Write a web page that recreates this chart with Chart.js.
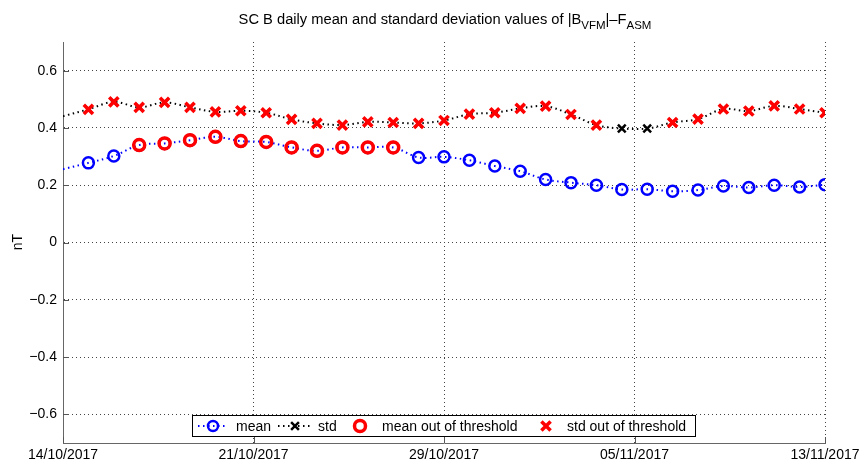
<!DOCTYPE html>
<html>
<head>
<meta charset="utf-8">
<script src="https://cdn.jsdelivr.net/npm/chart.js@4.4.1/dist/chart.umd.min.js"></script>
<style>
body { margin: 0; background: #fff; }
#wrap { width: 864px; height: 464px; }
</style>
</head>
<body>
<div id="wrap"><canvas id="myChart" width="864" height="464"></canvas></div>
<script>
// days since 14/10/2017
const days = [0, 1, 2, 3, 4, 5, 6, 7, 8, 9, 10, 11, 12, 13, 14, 15, 16, 17, 18, 19, 20, 21, 22, 23, 24, 25, 26, 27, 28, 29, 30];
const meanVals = [0.256, 0.278, 0.302, 0.340, 0.346, 0.357, 0.369, 0.354, 0.351, 0.332, 0.320, 0.332, 0.332, 0.332, 0.297, 0.299,
                  0.287, 0.267, 0.249, 0.220, 0.209, 0.200, 0.185, 0.186, 0.179, 0.183, 0.197, 0.192, 0.200, 0.194, 0.202];
const stdVals = [0.441, 0.465, 0.491, 0.472, 0.489, 0.472, 0.456, 0.460, 0.453, 0.430, 0.416, 0.410, 0.421, 0.419, 0.416, 0.426,
                 0.448, 0.453, 0.468, 0.476, 0.447, 0.410, 0.398, 0.398, 0.419, 0.431, 0.466, 0.459, 0.477, 0.466, 0.453];
const meanOutDays = [3, 4, 5, 6, 7, 8, 9, 10, 11, 12, 13];
const stdOutDays = [1, 2, 3, 4, 5, 6, 7, 8, 9, 10, 11, 12, 13, 14, 15, 16, 17, 18, 19, 20, 21, 24, 25, 26, 27, 28, 29, 30];
const xTickPos = [0, 7.5, 15, 22.5, 30];
const xTickLabels = ['14/10/2017', '21/10/2017', '29/10/2017', '05/11/2017', '13/11/2017'];
const yTickVals = [-0.6, -0.4, -0.2, 0, 0.2, 0.4, 0.6];

const FONT = "'Liberation Sans', Arial, Helvetica, sans-serif";
Chart.defaults.font.family = FONT;
Chart.defaults.font.size = 14;
Chart.defaults.color = '#000';

const pts = (vals) => days.map((d, i) => ({ x: d, y: vals[i] }));
const outPts = (vals, list) => days.map((d, i) => ({ x: d, y: list.includes(d) ? vals[i] : null }));

function drawMark(ctx, style, x, y, r, color, w) {
    ctx.save();
    ctx.strokeStyle = color;
    ctx.lineWidth = w;
    ctx.setLineDash([]);
    ctx.beginPath();
    if (style === 'circle') {
        ctx.arc(x, y, r, 0, Math.PI * 2);
    } else {
        const o = r * Math.SQRT1_2;
        ctx.moveTo(x - o, y - o); ctx.lineTo(x + o, y + o);
        ctx.moveTo(x - o, y + o); ctx.lineTo(x + o, y - o);
    }
    ctx.stroke();
    ctx.restore();
}

const extras = {
    id: 'extras',
    afterDraw(chart) {
        const ctx = chart.ctx;
        const xs = chart.scales.x, ys = chart.scales.y;
        const area = chart.chartArea;
        ctx.save();
        // inward tick marks
        ctx.strokeStyle = '#555';
        ctx.lineWidth = 1;
        ctx.beginPath();
        xTickPos.forEach(v => {
            const px = Math.round(xs.getPixelForValue(v)) + 0.5;
            ctx.moveTo(px, area.bottom); ctx.lineTo(px, area.bottom - 6);
        });
        yTickVals.forEach(v => {
            const py = Math.round(ys.getPixelForValue(v)) + 0.5;
            ctx.moveTo(area.left, py); ctx.lineTo(area.left + 6, py);
        });
        ctx.stroke();

        // title with subscripts
        const parts = [
            ['SC B daily mean and standard deviation values of |B', 0, 14.7],
            ['VFM', 5, 11.5],
            ['|\u2013F', 0, 14.7],
            ['ASM', 5, 11.5]
        ];
        let total = 0;
        parts.forEach(p => { ctx.font = p[2] + 'px ' + FONT; total += ctx.measureText(p[0]).width; });
        let tx = 445 - total / 2;
        ctx.fillStyle = '#000';
        ctx.textBaseline = 'alphabetic';
        ctx.textAlign = 'left';
        parts.forEach(p => {
            ctx.font = p[2] + 'px ' + FONT;
            ctx.fillText(p[0], tx, 24 + p[1]);
            tx += ctx.measureText(p[0]).width;
        });

        // y axis title
        ctx.save();
        ctx.translate(22, 242);
        ctx.rotate(-Math.PI / 2);
        ctx.textAlign = 'center';
        ctx.font = '14px ' + FONT;
        ctx.fillText('nT', 0, 0);
        ctx.restore();

        // legend
        const lx = 192.5, ly = 415.5, lw = 503, lh = 21;
        ctx.fillStyle = '#fff';
        ctx.fillRect(lx, ly, lw, lh);
        ctx.strokeStyle = '#000';
        ctx.lineWidth = 1;
        ctx.strokeRect(lx, ly, lw, lh);
        const cy = ly + lh / 2;
        const items = [
            { ds: 0, x0: 198, x1: 228, mx: 213, tx: 236 },
            { ds: 1, x0: 278, x1: 311, mx: 295, tx: 318 },
            { ds: 2, mx: 360, tx: 382 },
            { ds: 3, mx: 546, tx: 567 }
        ];
        ctx.font = '14px ' + FONT;
        ctx.textBaseline = 'middle';
        items.forEach(it => {
            const d = chart.data.datasets[it.ds];
            if (it.x0 !== undefined) {
                ctx.save();
                ctx.strokeStyle = d.borderColor;
                ctx.lineWidth = d.borderWidth;
                ctx.setLineDash(d.borderDash);
                ctx.beginPath();
                ctx.moveTo(it.x0, cy); ctx.lineTo(it.x1, cy);
                ctx.stroke();
                ctx.restore();
            }
            drawMark(ctx, d.pointStyle, it.mx, cy, d.legendR, d.pointBorderColor, d.pointBorderWidth);
            ctx.fillStyle = '#000';
            ctx.fillText(d.label, it.tx, cy + 1);
        });
        ctx.restore();
    }
};

const ctx = document.getElementById('myChart').getContext('2d');
const myChart = new Chart(ctx, {
    type: 'line',
    data: {
        datasets: [
            {
                label: 'mean',
                data: pts(meanVals),
                borderColor: '#0000ff',
                borderWidth: 2,
                borderDash: [1.5, 3.5],
                tension: 0.35,
                pointStyle: 'circle',
                pointRadius: days.map(d => d === 0 ? 0 : 5.5),
                pointBorderWidth: 2.5,
                pointBorderColor: '#0000ff',
                pointBackgroundColor: 'rgba(0,0,0,0)',
                legendR: 5,
                order: 4
            },
            {
                label: 'std',
                data: pts(stdVals),
                borderColor: '#000000',
                borderWidth: 2,
                borderDash: [1.5, 3.5],
                tension: 0.35,
                pointStyle: 'crossRot',
                pointRadius: days.map(d => d === 0 ? 0 : 5.5),
                pointBorderWidth: 2.5,
                pointBorderColor: '#000000',
                legendR: 5.5,
                order: 3
            },
            {
                label: 'mean out of threshold',
                data: outPts(meanVals, meanOutDays),
                showLine: false,
                pointStyle: 'circle',
                pointRadius: 5.5,
                pointBorderWidth: 3.5,
                pointBorderColor: '#ff0000',
                pointBackgroundColor: 'rgba(0,0,0,0)',
                legendR: 5.5,
                order: 2
            },
            {
                label: 'std out of threshold',
                data: outPts(stdVals, stdOutDays),
                showLine: false,
                pointStyle: 'crossRot',
                pointRadius: 6.5,
                pointBorderWidth: 3.5,
                pointBorderColor: '#ff0000',
                legendR: 6.5,
                order: 1
            }
        ]
    },
    options: {
        responsive: false,
        animation: false,
        spanGaps: false,
        layout: { padding: { top: 42, right: 39, left: 0, bottom: 0 } },
        plugins: {
            legend: { display: false },
            title: { display: false },
            tooltip: { enabled: false }
        },
        scales: {
            x: {
                type: 'linear',
                min: 0,
                max: 30,
                afterBuildTicks: (s) => { s.ticks = xTickPos.map(v => ({ value: v })); },
                afterFit: (s) => { s.height = 21; },
                ticks: {
                    padding: 4,
                    maxRotation: 0,
                    autoSkip: false,
                    callback: (v) => xTickLabels[xTickPos.indexOf(v)]
                },
                grid: { color: '#444', lineWidth: 1, drawTicks: false },
                border: { display: true, color: '#666', width: 1, dash: [1, 3] }
            },
            y: {
                min: -0.7,
                max: 0.7,
                afterBuildTicks: (s) => { s.ticks = yTickVals.map(v => ({ value: v })); },
                afterFit: (s) => { s.width = 63; },
                ticks: {
                    padding: 6,
                    callback: (v) => {
                        const r = Math.round(v * 10) / 10;
                        if (r === 0) return '0';
                        return (r < 0 ? '\u2212' : '') + Math.abs(r).toFixed(1);
                    }
                },
                grid: { color: '#444', lineWidth: 1, drawTicks: false },
                border: { display: true, color: '#666', width: 1, dash: [1, 3] }
            }
        }
    },
    plugins: [extras]
});
</script>
</body>
</html>
